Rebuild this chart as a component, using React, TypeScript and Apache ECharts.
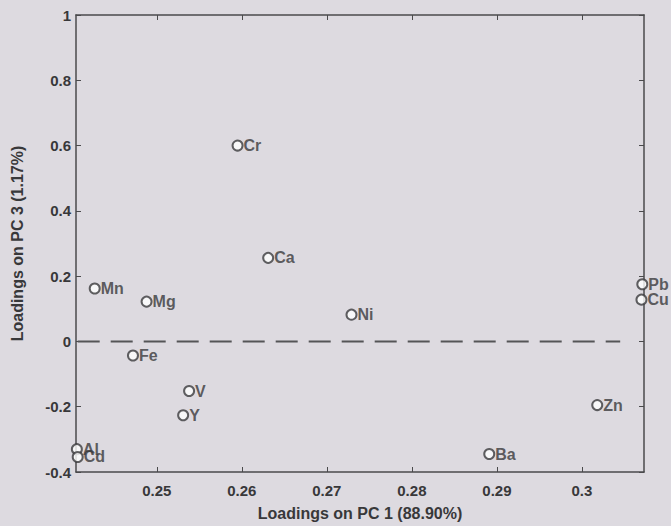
import React, { useEffect, useRef } from "react";
import * as echarts from "echarts";

const elements = ["Cr", "Ca", "Mn", "Mg", "Ni", "Fe", "V", "Y", "Al", "Cd", "Ba", "Zn", "Pb", "Cu"];
const pc1Loadings = [0.2595, 0.2631, 0.2427, 0.2488, 0.2729, 0.2472, 0.2538, 0.2531, 0.2406, 0.2407, 0.2891, 0.3018, 0.3071, 0.307];
const pc3Loadings = [0.6, 0.256, 0.162, 0.122, 0.082, -0.043, -0.152, -0.226, -0.33, -0.354, -0.345, -0.195, 0.175, 0.128];
const xTicks = [0.25, 0.26, 0.27, 0.28, 0.29, 0.3];
const xRange = [0.2405, 0.3073];
const yRange = [-0.4, 1];
const zeroLineX = [0.2407, 0.3045];

const FONT = "'Liberation Sans', Arial, sans-serif";
const INK = "#38383a";

export default function App() {
  const ref = useRef<HTMLDivElement>(null);
  useEffect(() => {
    const chart = echarts.init(ref.current!, null, { renderer: "svg" });
    const pts = elements.map((n, i) => [pc1Loadings[i], pc3Loadings[i], n]);
    const axisCommon = {
      axisLine: { show: true, onZero: false, lineStyle: { color: "#4a4a4c", width: 1.5 } },
      splitLine: { show: false },
    };
    chart.setOption({
      animation: false,
      backgroundColor: "#dddae0",
      grid: { left: 76, right: 27, top: 15, bottom: 53 },
      xAxis: [
        {
          type: "value",
          min: xRange[0],
          max: xRange[1],
          ...axisCommon,
          axisTick: { show: true, inside: true, length: 5, customValues: xTicks, lineStyle: { color: "#4a4a4c" } },
          axisLabel: {
            customValues: xTicks,
            margin: 11,
            color: INK,
            fontFamily: FONT,
            fontWeight: "bold",
            fontSize: 15,
            formatter: (v: number) => String(+v.toFixed(2)),
          },
          name: "Loadings on PC 1 (88.90%)",
          nameLocation: "middle",
          nameGap: 33,
          nameTextStyle: { color: INK, fontFamily: FONT, fontWeight: "bold", fontSize: 16 },
        },
        {
          type: "value",
          position: "top",
          min: xRange[0],
          max: xRange[1],
          ...axisCommon,
          axisTick: { show: true, inside: true, length: 5, customValues: xTicks, lineStyle: { color: "#4a4a4c" } },
          axisLabel: { show: false },
        },
      ],
      yAxis: [
        {
          type: "value",
          min: yRange[0],
          max: yRange[1],
          interval: 0.2,
          ...axisCommon,
          axisTick: { show: true, inside: true, length: 5, lineStyle: { color: "#4a4a4c" } },
          axisLabel: {
            margin: 5,
            color: INK,
            fontFamily: FONT,
            fontWeight: "bold",
            fontSize: 15,
            formatter: (v: number) => String(+v.toFixed(1)),
          },
          name: "Loadings on PC 3 (1.17%)",
          nameLocation: "middle",
          nameGap: 51,
          nameTextStyle: { color: INK, fontFamily: FONT, fontWeight: "bold", fontSize: 16 },
        },
        {
          type: "value",
          position: "right",
          min: yRange[0],
          max: yRange[1],
          interval: 0.2,
          ...axisCommon,
          axisTick: { show: true, inside: true, length: 5, lineStyle: { color: "#4a4a4c" } },
          axisLabel: { show: false },
        },
      ],
      series: [
        {
          type: "line",
          data: [[zeroLineX[0], 0], [zeroLineX[1], 0]],
          symbol: "none",
          silent: true,
          lineStyle: { color: "#555557", width: 2, type: [22, 11] },
        },
        {
          type: "scatter",
          data: pts,
          symbol: "emptyCircle",
          symbolSize: 10,
          clip: false,
          itemStyle: { color: "#3a3a3c", borderColor: "#3a3a3c", borderWidth: 1.2 },
          label: {
            show: true,
            position: "right",
            distance: 0,
            formatter: (p: any) => p.data[2],
            color: INK,
            fontFamily: FONT,
            fontWeight: "bold",
            fontSize: 16,
          },
        },
      ],
    });
    return () => chart.dispose();
  }, []);
  return (
    <div
      ref={ref}
      style={{ position: "fixed", left: 0, top: 0, width: 671, height: 526 }}
    />
  );
}
